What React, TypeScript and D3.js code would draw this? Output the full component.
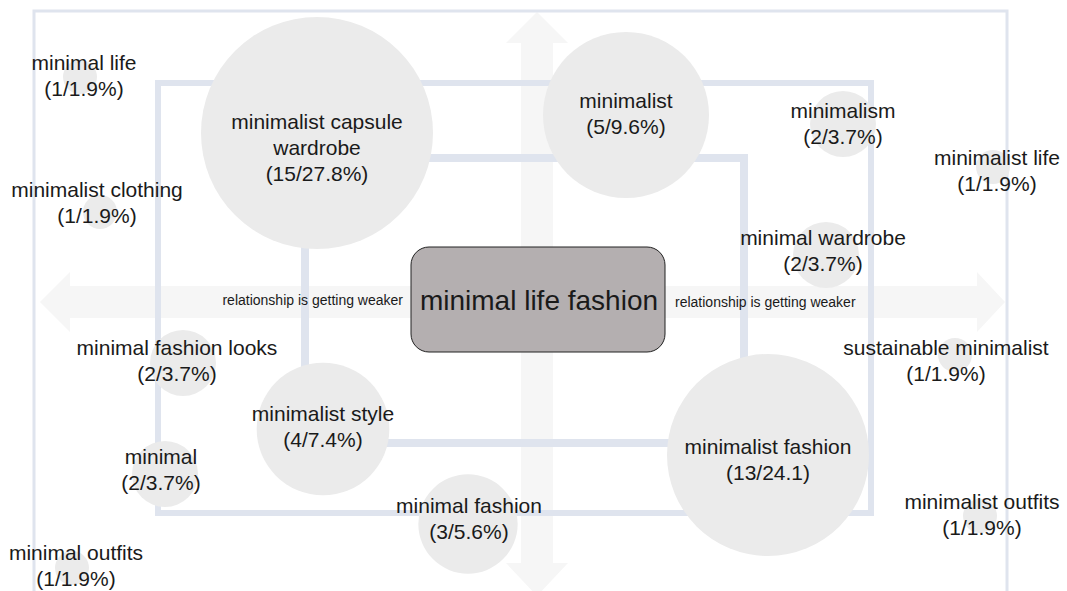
import React from 'react';
import * as d3 from 'd3';

// keyword terms around "minimal life fashion"
const terms = [
  'minimalist capsule|wardrobe',
  'minimalist',
  'minimalism',
  'minimal wardrobe',
  'minimalist life',
  'minimal life',
  'minimalist clothing',
  'minimal fashion looks',
  'minimal',
  'minimalist style',
  'minimal fashion',
  'minimalist fashion',
  'sustainable minimalist',
  'minimalist outfits',
  'minimal outfits',
];
const counts = [15, 5, 2, 2, 1, 1, 1, 2, 2, 4, 3, 13, 1, 1, 1];
const shares = ['27.8%', '9.6%', '3.7%', '3.7%', '1.9%', '1.9%', '1.9%', '3.7%', '3.7%', '7.4%', '5.6%', '24.1', '1.9%', '1.9%', '1.9%'];

// layout grid (design units, 1067 x 591)
const bubbleX = [317, 626, 843, 826, 993, 80, 100, 183, 165, 323, 468, 768, 955, 980, 72];
const bubbleY = [133, 115, 124, 255, 167, 77, 212, 363, 474, 429, 524, 455, 355, 516, 568];
const labelX = [317, 626, 843, 823, 997, 84, 97, 177, 161, 323, 469, 768, 946, 982, 76];
const labelY = [147, 113, 123, 250, 170, 75, 202, 360, 469, 426, 518, 459, 360, 514, 565];

const centerLabel = 'minimal life fashion';
const weakerLabel = 'relationship is getting weaker';

const W = 1067;
const H = 591;
const FONT = '"Liberation Sans", Arial, Helvetica, sans-serif';

export default function App() {
  const x = d3.scaleLinear().domain([0, 1067]).range([0, W]);
  const y = d3.scaleLinear().domain([0, 591]).range([0, H]);
  const r = d3.scaleLinear().domain([1, 2, 5, 13, 15]).range([17, 33, 83, 101, 116]);

  // concentric frames: [x0, y0, x1, y1, stroke]
  const frames = [
    [34, 11, 1007, 620, 3],
    [158, 83, 871, 513, 6],
    [305, 158, 744, 443, 8],
  ];

  // double arrows
  const hArrow = d3.path();
  hArrow.moveTo(x(40), y(302));
  hArrow.lineTo(x(70), y(272));
  hArrow.lineTo(x(70), y(286));
  hArrow.lineTo(x(977), y(286));
  hArrow.lineTo(x(977), y(272));
  hArrow.lineTo(x(1005), y(302));
  hArrow.lineTo(x(977), y(332));
  hArrow.lineTo(x(977), y(318));
  hArrow.lineTo(x(70), y(318));
  hArrow.lineTo(x(70), y(332));
  hArrow.closePath();

  const vArrow = d3.path();
  vArrow.moveTo(x(537), y(12));
  vArrow.lineTo(x(568), y(43));
  vArrow.lineTo(x(553), y(43));
  vArrow.lineTo(x(553), y(563));
  vArrow.lineTo(x(568), y(563));
  vArrow.lineTo(x(537), y(596));
  vArrow.lineTo(x(506), y(563));
  vArrow.lineTo(x(521), y(563));
  vArrow.lineTo(x(521), y(43));
  vArrow.lineTo(x(506), y(43));
  vArrow.closePath();

  return (
    <svg width={W} height={H} style={{ position: 'absolute', left: 0, top: 0, background: '#fff' }} fontFamily={FONT}>
      <path d={hArrow.toString()} fill="#f6f6f6" />
      <path d={vArrow.toString()} fill="#f6f6f6" />
      {frames.map((f, i) => (
        <rect
          key={i}
          x={x(f[0])}
          y={y(f[1])}
          width={x(f[2]) - x(f[0])}
          height={y(f[3]) - y(f[1])}
          fill="none"
          stroke="#dfe4ee"
          strokeWidth={f[4]}
        />
      ))}
      {terms.map((t, i) => (
        <circle key={t} cx={x(bubbleX[i])} cy={y(bubbleY[i])} r={r(counts[i])} fill="#ebebeb" />
      ))}
      {terms.map((t, i) => {
        const lines = t.split('|').concat([`(${counts[i]}/${shares[i]})`]);
        return (
          <text key={t} fontSize={21} fill="#1a1a1a" textAnchor="middle">
            {lines.map((l, j) => (
              <tspan
                key={j}
                x={x(labelX[i])}
                y={y(labelY[i]) + (j - (lines.length - 1) / 2) * 26}
                dominantBaseline="central"
              >
                {l}
              </tspan>
            ))}
          </text>
        );
      })}
      <rect x={x(411)} y={y(247)} width={x(665) - x(411)} height={y(352) - y(247)} rx={18} fill="#b4afb0" stroke="#222" strokeWidth={1} />
      <text x={x(539)} y={y(300)} fontSize={28} textAnchor="middle" dominantBaseline="central" fill="#1a1a1a">
        {centerLabel}
      </text>
      <text x={x(403)} y={y(300)} fontSize={14} textAnchor="end" dominantBaseline="central" fill="#1a1a1a">
        {weakerLabel}
      </text>
      <text x={x(675)} y={y(302)} fontSize={14} textAnchor="start" dominantBaseline="central" fill="#1a1a1a">
        {weakerLabel}
      </text>
    </svg>
  );
}
